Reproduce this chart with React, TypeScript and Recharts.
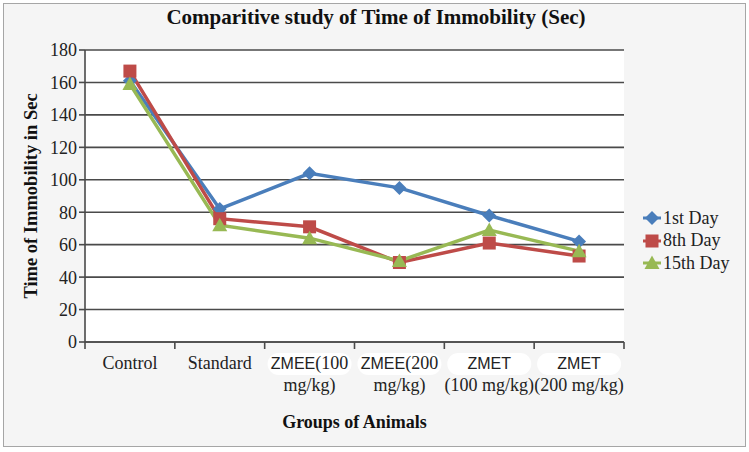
import React from 'react';
import { LineChart, Line, XAxis, YAxis, CartesianGrid } from 'recharts';

const groups = ['Control', 'Standard', 'ZMEE100', 'ZMEE200', 'ZMET100', 'ZMET200'];
const day1 = [161, 82, 104, 95, 78, 62];
const day8 = [167, 76, 71, 49, 61, 53];
const day15 = [159, 72, 64, 50, 69, 56];

const yTicks = [0, 20, 40, 60, 80, 100, 120, 140, 160, 180];

// tick label lines per group: [sans part, serif part] for each line
const tickLines: Record<string, { sans: string; serif: string }[]> = {
  Control: [{ sans: '', serif: 'Control' }],
  Standard: [{ sans: '', serif: 'Standard' }],
  ZMEE100: [{ sans: 'ZMEE', serif: '(100' }, { sans: '', serif: 'mg/kg)' }],
  ZMEE200: [{ sans: 'ZMEE', serif: '(200' }, { sans: '', serif: 'mg/kg)' }],
  ZMET100: [{ sans: 'ZMET', serif: '' }, { sans: '', serif: '(100 mg/kg)' }],
  ZMET200: [{ sans: 'ZMET', serif: '' }, { sans: '', serif: '(200 mg/kg)' }],
};

const COLORS = { day1: '#4a7ebb', day8: '#be4b48', day15: '#98b954' };
const SERIF = '"Liberation Serif", "DejaVu Serif", serif';
const SANS = '"Liberation Sans", Arial, sans-serif';
const AXIS = '#4a4a4a';

const W = 749;
const H = 452;
const MARGIN = { top: 50, right: 125, bottom: 20, left: 35 };
const Y_WIDTH = 50;
const BAND = (W - MARGIN.left - Y_WIDTH - MARGIN.right) / groups.length;

const data = groups.map((g, i) => ({
  group: g,
  day1: day1[i],
  day8: day8[i],
  day15: day15[i],
}));

const legendItems = [
  { key: 'day1', label: '1st Day', shape: 'diamond' },
  { key: 'day8', label: '8th Day', shape: 'square' },
  { key: 'day15', label: '15th Day', shape: 'triangle' },
];

function Marker({ cx, cy, shape, color }: any) {
  if (cx == null || cy == null) return null;
  if (shape === 'diamond') {
    const r = 7;
    return <path d={`M${cx},${cy - r}L${cx + r},${cy}L${cx},${cy + r}L${cx - r},${cy}Z`} fill={color} />;
  }
  if (shape === 'square') {
    const r = 6.5;
    return <rect x={cx - r} y={cy - r} width={r * 2} height={r * 2} fill={color} />;
  }
  const r = 7.5;
  return <path d={`M${cx},${cy - r}L${cx + r},${cy + r * 0.8}L${cx - r},${cy + r * 0.8}Z`} fill={color} />;
}

function GroupTick({ x, y, payload, index }: any) {
  const lines = tickLines[payload.value] || [{ sans: '', serif: payload.value }];
  const y0 = y - 8; // axis line position
  const last = index === groups.length - 1;
  return (
    <g>
      {/* Excel-style tick marks between categories */}
      <line x1={x - BAND / 2} y1={y0} x2={x - BAND / 2} y2={y0 + 7} stroke={AXIS} strokeWidth={1.6} />
      {last && <line x1={x + BAND / 2} y1={y0} x2={x + BAND / 2} y2={y0 + 7} stroke={AXIS} strokeWidth={1.6} />}
      {lines.map((ln, i) => {
        const ty = y0 + 27 + i * 22;
        return (
          <g key={i}>
            {ln.sans && (
              <rect x={x - 42} y={ty - 16} width={84} height={22} rx={11} fill="#ffffff" />
            )}
            <text x={x} y={ty} textAnchor="middle" fontSize={18} fill="#222">
              {ln.sans && (
                <tspan fontFamily={SANS} fontSize={16}>
                  {ln.sans}
                </tspan>
              )}
              {ln.serif && <tspan fontFamily={SERIF}>{ln.serif}</tspan>}
            </text>
          </g>
        );
      })}
    </g>
  );
}

function LegendIcon({ shape, color }: { shape: string; color: string }) {
  return (
    <svg width={20} height={16} style={{ display: 'block' }}>
      <line x1={1} y1={8} x2={19} y2={8} stroke={color} strokeWidth={3} />
      <Marker cx={10} cy={8} shape={shape} color={color} />
    </svg>
  );
}

export default function App() {
  return (
    <div
      style={{
        position: 'absolute',
        left: 0,
        top: 0,
        width: W,
        height: H,
        background: '#ffffff',
        fontFamily: SERIF,
      }}
    >
      <div
        style={{
          position: 'absolute',
          left: 3,
          top: 3,
          width: 741,
          height: 442,
          background: '#f5f5f5',
          border: '1.5px solid #a6a6a6',
        }}
      />
      <div
        style={{
          position: 'absolute',
          left: 0,
          top: 5,
          width: 752,
          textAlign: 'center',
          fontSize: 21,
          fontWeight: 'bold',
          color: '#111',
        }}
      >
        Comparitive study of Time of Immobility (Sec)
      </div>
      <div style={{ position: 'absolute', left: 0, top: 0 }}>
        <LineChart width={W} height={H} data={data} margin={MARGIN}>
          <CartesianGrid vertical={false} stroke={AXIS} strokeWidth={1.6} fill="#ffffff" />
          <XAxis
            dataKey="group"
            scale="band"
            height={90}
            axisLine={{ stroke: AXIS, strokeWidth: 1.6 }}
            tickLine={false}
            tickSize={0}
            tickMargin={8}
            interval={0}
            tick={<GroupTick />}
            label={{
              value: 'Groups of Animals',
              position: 'insideBottom',
              offset: 4,
              style: { fontFamily: SERIF, fontSize: 18, fontWeight: 'bold', fill: '#111' },
            }}
          />
          <YAxis
            width={Y_WIDTH}
            domain={[0, 180]}
            ticks={yTicks}
            interval={0}
            tickSize={6}
            axisLine={{ stroke: AXIS, strokeWidth: 1.6 }}
            tickLine={{ stroke: AXIS, strokeWidth: 1.6 }}
            tick={{ fontFamily: SERIF, fontSize: 18, fill: '#222' }}
            label={{
              value: 'Time of Immobility in Sec',
              angle: -90,
              position: 'insideLeft',
              offset: -5,
              style: {
                fontFamily: SERIF,
                fontSize: 18.5,
                fontWeight: 'bold',
                fill: '#111',
                textAnchor: 'middle',
              },
            }}
          />
          {legendItems.map((it) => (
            <Line
              key={it.key}
              dataKey={it.key}
              stroke={(COLORS as any)[it.key]}
              strokeWidth={3.5}
              isAnimationActive={false}
              dot={(p: any) => (
                <Marker key={`${it.key}-${p.index}`} cx={p.cx} cy={p.cy} shape={it.shape} color={(COLORS as any)[it.key]} />
              )}
              activeDot={false}
            />
          ))}
        </LineChart>
      </div>
      <div style={{ position: 'absolute', left: 642, top: 207 }}>
        {legendItems.map((it) => (
          <div key={it.key} style={{ display: 'flex', alignItems: 'center', height: 22.5 }}>
            <LegendIcon shape={it.shape} color={(COLORS as any)[it.key]} />
            <span style={{ fontSize: 18, color: '#222', marginLeft: 1 }}>{it.label}</span>
          </div>
        ))}
      </div>
    </div>
  );
}
